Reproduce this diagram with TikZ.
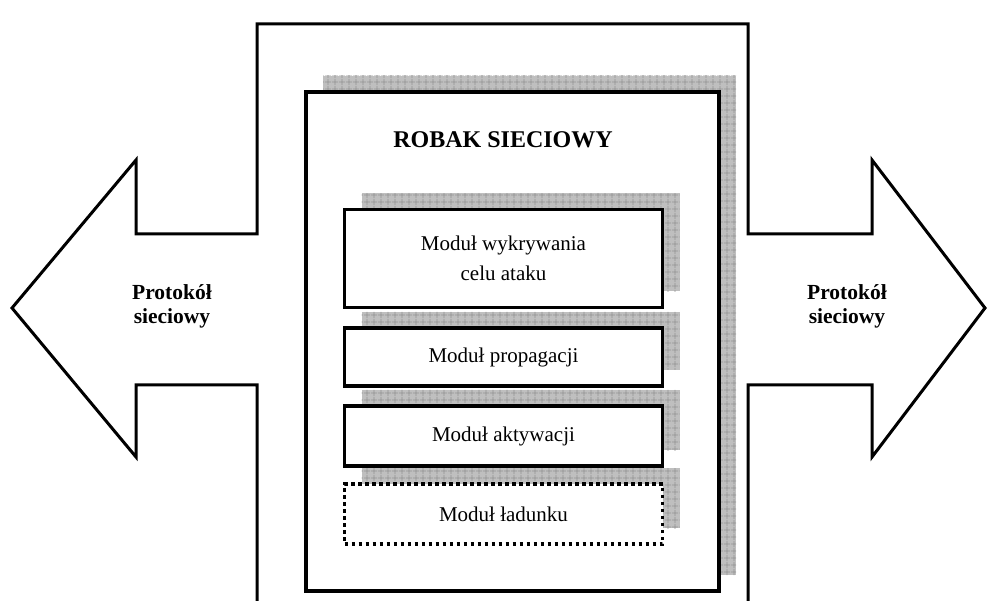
\documentclass[tikz,border=0pt]{standalone}
\usepackage{fontspec}
\setmainfont{Liberation Serif}
\usetikzlibrary{shadows,patterns.meta}

\tikzdeclarepattern{
  name=siatka, type=uncolored,
  bounding box={(0,0) and (6.5pt,6.5pt)},
  tile size={(6.5pt,6.5pt)},
  code={\draw[line width=0.8pt] (0,3.25pt) -- (6.5pt,3.25pt) (3.25pt,0) -- (3.25pt,6.5pt);}
}

\tikzset{
  cien/.style={drop shadow={shadow xshift=17pt, shadow yshift=16pt, fill=black!25, opacity=1,
      postaction={pattern=siatka, pattern color=black!42}}},
  modul/.style={draw, line width=3.5pt, fill=white, cien, minimum width=318pt, inner sep=0pt,
      align=center, font=\fontsize{21}{30}\selectfont},
  proto/.style={align=center, font=\fontsize{21.5}{24}\selectfont\bfseries},
}

\begin{document}
\begin{tikzpicture}[x=1pt, y=-1pt]
     \useasboundingbox (0,0) rectangle (988,601);

     \draw[line width=3pt, line join=miter] (257,601) -- (257,385) -- (136,385) -- (136,457)
       -- (12,308) -- (136,160) -- (136,234) -- (257,234) -- (257,24) -- (748,24)
       -- (748,234) -- (872,234) -- (872,160) -- (985,308) -- (872,457) -- (872,385)
       -- (748,385) -- (748,601);

     \node[proto] (lewy) at (172,306) {Protokół\\sieciowy};
     \node[proto] (prawy) at (847,306) {Protokół\\sieciowy};

     \node[draw, line width=3.5pt, fill=white, cien, minimum width=413pt, minimum height=499pt] (robak) at (512.5,341.5) {};
     \node[font=\fontsize{24}{28}\selectfont\bfseries] (tytul) at (503,140) {ROBAK SIECIOWY};

     \node[modul, minimum height=98pt] (m1) at (503.5,258.5) {Moduł wykrywania\\celu ataku};
     \node[modul, minimum height=58pt] (m2) at (503.5,357) {Moduł propagacji};
     \node[modul, minimum height=60pt] (m3) at (503.5,436) {Moduł aktywacji};
     \node[modul, minimum height=60pt, dash pattern=on 3.5pt off 3.5pt] (m4) at (503.5,514) {Moduł ładunku};

\end{tikzpicture}
\end{document}
